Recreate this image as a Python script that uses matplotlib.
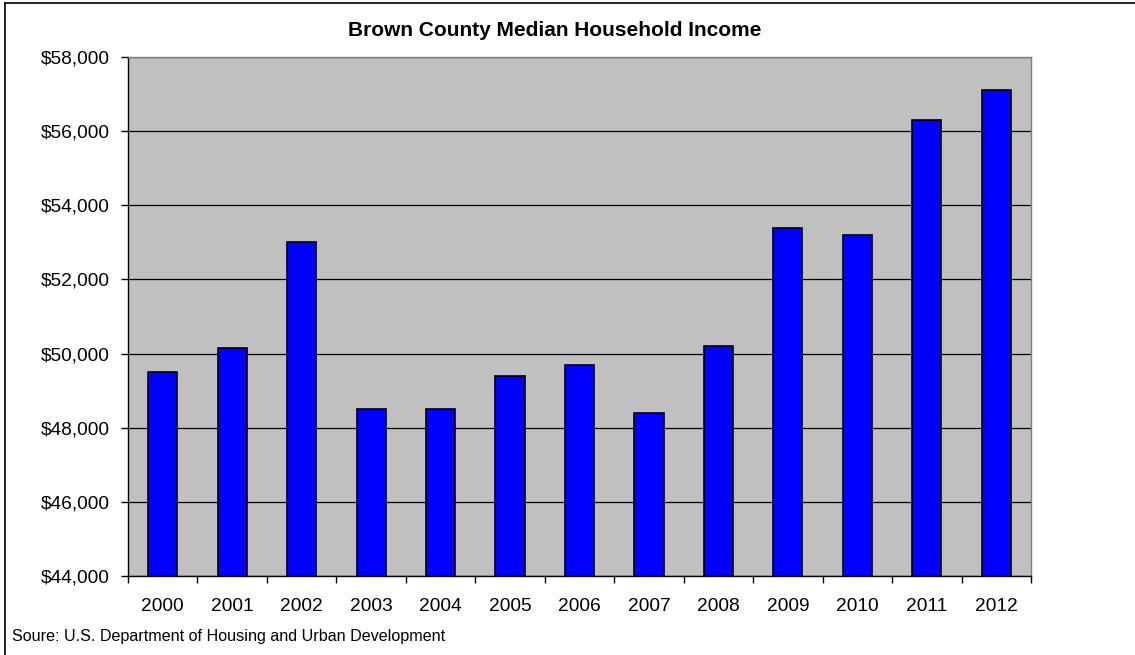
import matplotlib
matplotlib.use("Agg")
import matplotlib.pyplot as plt
from matplotlib.lines import Line2D
from matplotlib.ticker import FuncFormatter, FixedLocator
import numpy as np

years = ["2000", "2001", "2002", "2003", "2004", "2005", "2006",
         "2007", "2008", "2009", "2010", "2011", "2012"]
income = [49500, 50150, 53000, 48500, 48500, 49400, 49700,
          48400, 50200, 53400, 53200, 56300, 57100]

title = "Brown County Median Household Income"
source = "Soure: U.S. Department of Housing and Urban Development"

plt.rcParams["font.family"] = ["Liberation Sans", "DejaVu Sans"]

W, H = 1135, 655
fig = plt.figure(figsize=(W / 100, H / 100), dpi=100)
fig.patch.set_facecolor("white")

# plot area in pixel coords
left, right, top, bottom = 128, 1031, 57, 576
ax = fig.add_axes([left / W, (H - bottom) / H, (right - left) / W, (bottom - top) / H])
ax.set_facecolor("#c0c0c0")

x = np.arange(len(years))
ax.bar(x, [v - 44000 for v in income], bottom=44000, width=0.42,
       color="#0000ff", edgecolor="black", linewidth=1.2, zorder=3)

ax.set_xlim(-0.5, len(years) - 0.5)
ax.set_ylim(44000, 58000)
ax.set_yticks(np.arange(44000, 58001, 2000))
ax.yaxis.set_major_formatter(FuncFormatter(lambda v, p: "${:,.0f}".format(v)))
ax.set_xticks(x)
ax.set_xticklabels(years)
ax.xaxis.set_minor_locator(FixedLocator(np.arange(-0.5, len(years), 1.0)))

ax.grid(axis="y", color="black", linewidth=0.9, zorder=1)
ax.set_axisbelow(True)

ax.tick_params(axis="x", which="major", length=0, pad=16, labelsize=13.8)
ax.tick_params(axis="x", which="minor", length=5, width=1, direction="out")
ax.tick_params(axis="y", length=5, width=1, direction="out", pad=8, labelsize=13.8)

for s in ["left", "bottom"]:
    ax.spines[s].set_color("black")
    ax.spines[s].set_linewidth(1)
for s in ["top", "right"]:
    ax.spines[s].set_color("#808080")
    ax.spines[s].set_linewidth(1)

fig.text(555 / W, 1 - 30 / H, title, ha="center", va="center",
         fontsize=15, fontweight="bold")
fig.text(12 / W, 1 - 636 / H, source, ha="left", va="center", fontsize=11.6)

# outer chart frame (top and left edges visible)
fig.add_artist(Line2D([4.5 / W, 4.5 / W], [0, 1 - 2.5 / H], transform=fig.transFigure,
                      color="black", linewidth=1.2))
fig.add_artist(Line2D([4.5 / W, 1], [1 - 2.5 / H, 1 - 2.5 / H], transform=fig.transFigure,
                      color="black", linewidth=1.2))

fig.savefig("out.png", dpi=100)
